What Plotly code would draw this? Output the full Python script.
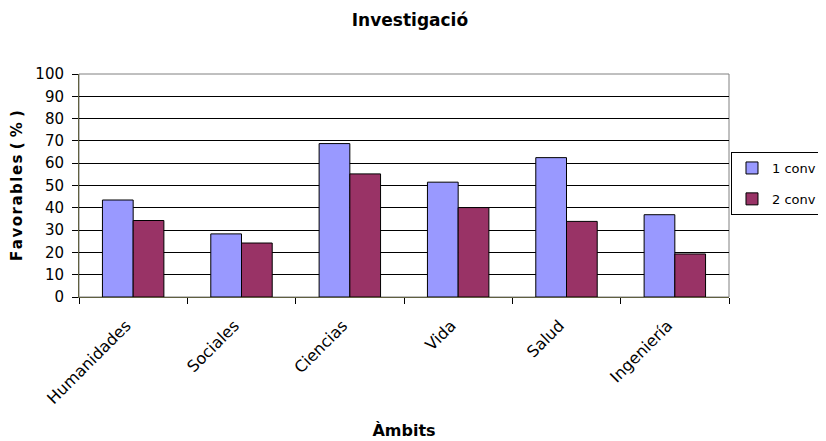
import plotly.graph_objects as go

categories = ["Humanidades", "Sociales", "Ciencias", "Vida", "Salud", "Ingeniería"]
conv1 = [43.5, 28.3, 68.8, 51.5, 62.5, 36.9]
conv2 = [34.3, 24.2, 55.2, 40.1, 33.9, 19.3]
y_ticks = [0, 10, 20, 30, 40, 50, 60, 70, 80, 90, 100]

FONT = "DejaVu Sans, Verdana, sans-serif"
HS = "\u200a"  # hair space to mimic the wide letter spacing of the y title
ytitle = HS.join("Favorables") + " ( % )"

fig = go.Figure()
fig.add_trace(go.Bar(name="1 conv", x=categories, y=conv1, legendgroup="a",
                     marker=dict(color="#9999FF", line=dict(color="black", width=1))))
fig.add_trace(go.Bar(name="2 conv", x=categories, y=conv2, legendgroup="b",
                     marker=dict(color="#993366", line=dict(color="black", width=1))))

fig.update_layout(
    width=818, height=433,
    margin=dict(l=71, r=97, t=66, b=144),
    paper_bgcolor="white", plot_bgcolor="white",
    font=dict(family=FONT, color="black", size=15),
    title=dict(text="<b>Investigació</b>", x=0.4914, xanchor="center", y=0.972, yanchor="middle",
               font=dict(size=17)),
    barmode="group", bargap=0.433, bargroupgap=0,
    legend=dict(xref="container", yref="container", x=0.9951, y=0.6674,
                xanchor="right", yanchor="top",
                bordercolor="black", borderwidth=1, font=dict(size=13),
                traceorder="grouped", tracegroupgap=11, bgcolor="white"),
    showlegend=True,
)
fig.update_xaxes(
    title=dict(text="<b>Àmbits</b>", font=dict(size=16), standoff=18),
    tickangle=-45, tickson="boundaries", ticks="outside", ticklen=6, tickcolor="black",
    tickfont=dict(size=16), ticklabelstandoff=12, ticklabelshift=-7,
    showline=True, linecolor="#606040", linewidth=1,
    showgrid=False, automargin=False,
)
fig.update_yaxes(
    title=dict(text="<b>" + ytitle + "</b>", font=dict(size=15), standoff=10),
    range=[0, 100], tickvals=y_ticks, ticks="outside", ticklen=6, tickcolor="black",
    ticklabelstandoff=5,
    showline=True, linecolor="#606040", linewidth=1,
    showgrid=True, gridcolor="black", gridwidth=1, zeroline=False, automargin=False,
)
fig.add_shape(type="rect", xref="paper", yref="paper", x0=0, y0=0, x1=1, y1=1,
              line=dict(color="#808080", width=1), layer="below")

fig.write_html("out.html")
